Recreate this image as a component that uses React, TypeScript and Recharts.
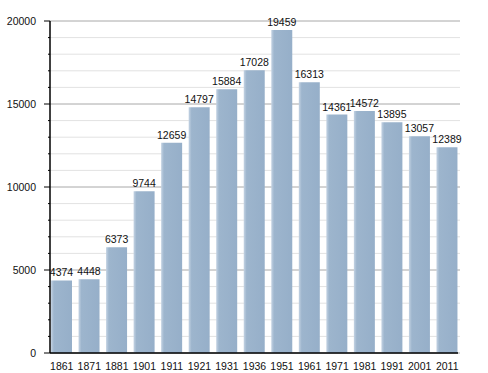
import { BarChart, Bar, XAxis, YAxis, CartesianGrid, LabelList } from "recharts";

const years = ["1861", "1871", "1881", "1901", "1911", "1921", "1931", "1936", "1951", "1961", "1971", "1981", "1991", "2001", "2011"];
const population = [4374, 4448, 6373, 9744, 12659, 14797, 15884, 17028, 19459, 16313, 14361, 14572, 13895, 13057, 12389];
const yTicks = [0, 1000, 2000, 3000, 4000, 5000, 6000, 7000, 8000, 9000, 10000, 11000, 12000, 13000, 14000, 15000, 16000, 17000, 18000, 19000, 20000];

const data = years.map((year, i) => ({ year, pop: population[i] }));

const FONT = "'Liberation Sans', Arial, sans-serif";
const TICK_SIZE = 6;
const TICK_MARGIN = 8;

const YTick = (props: any) => {
  const { x, y, payload } = props;
  const axisX = x + TICK_SIZE + TICK_MARGIN;
  const major = payload.value % 5000 === 0;
  return (
    <g>
      <line x1={major ? axisX - 6 : axisX - 2} x2={axisX} y1={y} y2={y} stroke="#000" strokeWidth={1} />
      {major && (
        <text x={x} y={y} dy={4} textAnchor="end" fontSize={10.5} fontFamily={FONT} fill="#111">
          {payload.value}
        </text>
      )}
    </g>
  );
};

const gridLine = (props: any) => {
  const { x1, x2, y1, y2, index } = props;
  const major = yTicks[index] % 5000 === 0;
  return (
    <line key={`g-${index}`} x1={x1} x2={x2 + 2} y1={y1} y2={y2} stroke={major ? "#a8a8a8" : "#e2e2e2"} strokeWidth={1} />
  );
};

export default function App() {
  return (
    <div style={{ position: "absolute", left: 0, top: 0, background: "#fff" }}>
      <BarChart
        width={488}
        height={373}
        data={data}
        margin={{ top: 21, right: 30, left: 0, bottom: 0 }}
        barSize={21}
      >
        <defs>
          <linearGradient id="barFill" x1="0" y1="0" x2="1" y2="0">
            <stop offset="0%" stopColor="#c4d3e3" />
            <stop offset="14%" stopColor="#9db5cd" />
            <stop offset="100%" stopColor="#96afc9" />
          </linearGradient>
        </defs>
        <CartesianGrid horizontal={gridLine} vertical={false} />
        <XAxis
          dataKey="year"
          height={20}
          padding={{ left: -2, right: -3 }}
          axisLine={{ stroke: "#000", strokeWidth: 1.5 }}
          tickLine={false}
          tickMargin={4}
          interval={0}
          tick={{ fontSize: 10.5, fontFamily: FONT, fill: "#111" }}
        />
        <YAxis
          width={50}
          domain={[0, 20000]}
          ticks={yTicks}
          interval={0}
          axisLine={{ stroke: "#000", strokeWidth: 1.5 }}
          tickLine={false}
          tickSize={TICK_SIZE}
          tickMargin={TICK_MARGIN}
          tick={<YTick />}
        />
        <Bar dataKey="pop" fill="url(#barFill)" isAnimationActive={false}>
          <LabelList
            dataKey="pop"
            position="top"
            offset={4}
            style={{ fontSize: 10.5, fontFamily: FONT, fill: "#111" }}
          />
        </Bar>
      </BarChart>
    </div>
  );
}
